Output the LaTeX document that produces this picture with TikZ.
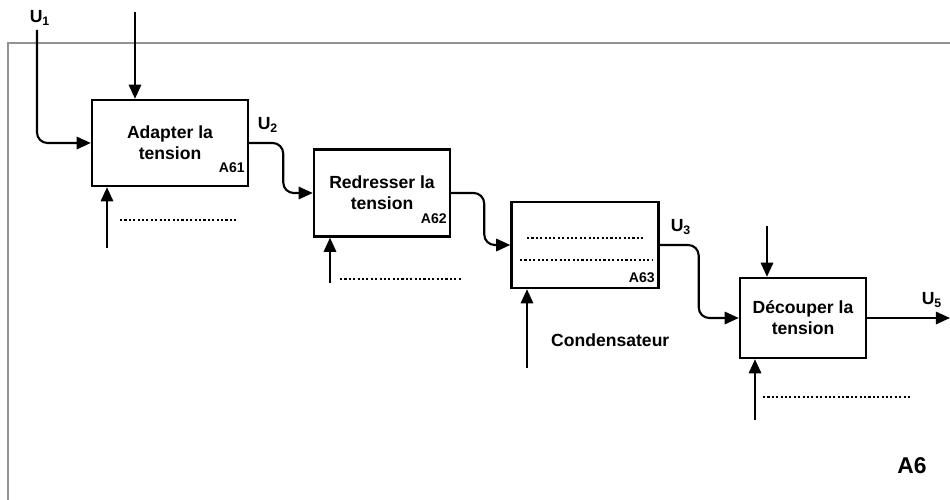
\documentclass[tikz,border=0pt]{standalone}
\usepackage{fontspec}
\setmainfont{Liberation Sans}
\usetikzlibrary{arrows.meta,calc}

\begin{document}
\begin{tikzpicture}[x=0.02cm, y=-0.02cm,
  every node/.style={font=\bfseries},
  bloc/.style={draw, line width=1.4pt, align=center, inner sep=0pt},
  flux/.style={line width=1.2pt, rounded corners=6pt, -{Triangle[length=8pt,width=7pt]}},
  pointille/.style={line width=1.5pt, dash pattern=on 1.2pt off 1.3pt},
  repere/.style={font=\bfseries\footnotesize, anchor=base east, inner sep=0pt}]
\useasboundingbox (0,0) rectangle (950,500);

% Cadre du diagramme A6
\draw[gray!85, line width=0.8pt] (8,500) -- (8,43) -- (950,43);
\node[font=\bfseries\fontsize{13}{15}\selectfont] (titre) at (912,466) {A6};

% Les quatre blocs
\node[bloc, minimum width=3.12cm, minimum height=1.72cm] (a61) at (170,143) {Adapter la\\tension};
\node[bloc, minimum width=2.72cm, minimum height=1.74cm] (a62) at (382,193) {Redresser la\\tension};
\node[bloc, minimum width=2.94cm, minimum height=1.72cm] (a63) at (585,245) {};
\node[bloc, minimum width=2.52cm, minimum height=1.60cm] (a64) at (803,318) {D\'ecouper la\\tension};

\node[repere] (r61) at (245,173) {A61};
\node[repere] (r62) at (447,223) {A62};
\node[repere] (r63) at (655,282) {A63};

% Entrees et sorties
\node (u1) at (40,18) {U\textsubscript{1}};
\node (u2) at (268,125) {U\textsubscript{2}};
\node (u3) at (681,227) {U\textsubscript{3}};
\node (u5) at (932,300) {U\textsubscript{5}};

\coordinate (e1) at (37,30);
\coordinate (s5) at (950,318);
\draw[flux] (e1) |- (a61.west);
\draw[flux] (a61.east) -- ++(34,0) |- (a62.west);
\draw[flux] (a62.east) -- ++(33,0) |- (a63.west);
\draw[flux] (a63.east) -- ++(39,0) |- (a64.west);
\draw[flux] (a64.east) -- (s5);

% Controles (haut)
\coordinate (c61) at (135,12);
\coordinate (c64) at (767,226);
\draw[flux] (c61) -- (c61 |- a61.north);
\draw[flux] (c64) -- (c64 |- a64.north);

% Mecanismes (bas)
\coordinate (m61) at (107,248);
\coordinate (m62) at (330,283);
\coordinate (m63) at (527,368);
\coordinate (m64) at (755,420);
\foreach \m/\b in {m61/a61, m62/a62, m63/a63, m64/a64}
  \draw[flux] (\m) -- (\m |- \b.south);

% Pointilles a completer
\foreach \xa/\xb/\yy in {120/238/220, 340/462/279, 527/644/238, 520/652/260, 763/912/397}
  \draw[pointille] (\xa,\yy) -- (\xb,\yy);
\node[anchor=west] (cond) at (545,340) {Condensateur};
\end{tikzpicture}
\end{document}
